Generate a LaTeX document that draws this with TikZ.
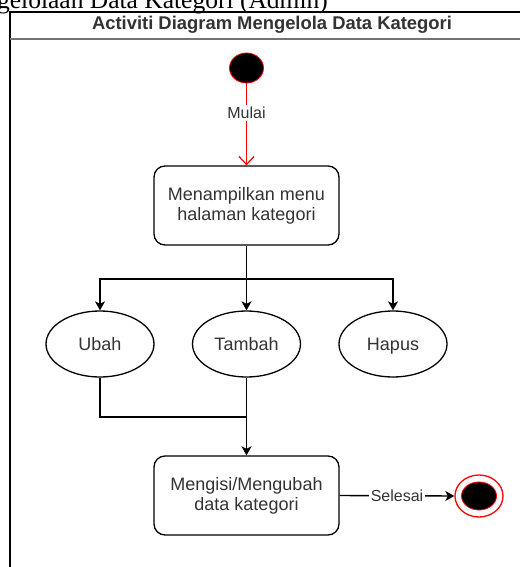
\documentclass[tikz,border=0pt]{standalone}
\usepackage{fontspec}
\setmainfont{Liberation Serif}
\newfontfamily\arialfont{Liberation Sans}
\usetikzlibrary{shapes.geometric,arrows.meta}
\definecolor{txt}{HTML}{333333}
\begin{document}
\begin{tikzpicture}[x=1pt,y=-1pt,
  every node/.style={font=\arialfont\fontsize{18}{20}\selectfont, text=txt, align=center, inner sep=0pt},
  conn/.style={draw=black, line width=1.4pt},
  arr/.style={conn, -{Stealth[length=9pt,width=10pt,inset=2.5pt]}},
  action/.style={draw=black, line width=1.3pt, rounded corners=11pt, fill=white,
    minimum width=185pt, minimum height=79pt},
  usecase/.style={ellipse, draw=black, line width=1.3pt, fill=white,
    minimum width=108pt, minimum height=66pt, text height=13pt, text depth=0pt},
  edgelabel/.style={fill=white, font=\arialfont\fontsize{16}{18}\selectfont, inner sep=2pt,
    text height=11.5pt, text depth=0pt}]
  \useasboundingbox (0,0) rectangle (519,567);
  \fill[white] (0,0) rectangle (519,567);

  % heading text above the frame
  \node[anchor=base east, font=\rmfamily\fontsize{25.5}{28}\selectfont, text=black]
    (caption) at (328,9) {Pengelolaan Data Kategori (Admin)};

  % frame with title band
  \draw[line width=1.4pt, black] (10,580) -- (10,12) -- (540,12);
  \draw[line width=2pt, black!55] (10,39) -- (540,39);
  \node[font=\arialfont\bfseries\fontsize{18.4}{20}\selectfont] (title) at (272,25)
    {Activiti Diagram Mengelola Data Kategori};

  % start node
  \node[ellipse, fill=black, draw=red, line width=0.8pt,
    minimum width=34pt, minimum height=30pt] (start) at (246.5,68) {};

  % actions and choices
  \node[action] (menu) at (246.5,205.5) {Menampilkan menu\\halaman kategori};
  \node[usecase] (ubah) at (100,344) {Ubah};
  \node[usecase] (tambah) at (246.5,344) {Tambah};
  \node[usecase] (hapus) at (393,344) {Hapus};
  \node[action] (isi) at (246.5,495.5) {Mengisi/Mengubah\\data kategori};

  % final node
  \node[ellipse, draw=red, line width=1.3pt, fill=white,
    minimum width=48pt, minimum height=42pt] (end) at (479,496) {};
  \node[ellipse, fill=black, draw=red, line width=0.8pt,
    minimum width=35pt, minimum height=28pt] (endcore) at (end.center) {};

  % junction points
  \coordinate (split) at (246.5,279);
  \coordinate (merge) at (246.5,417);

  % connectors
  \draw[red, line width=1.2pt, -{Straight Barb[length=8pt,width=15pt]}]
    (start) -- node[edgelabel, pos=0.36] (mulai) {Mulai} (menu);
  \draw[arr] (menu.south) -- (tambah.north);
  \draw[arr] (split) -| (ubah.north);
  \draw[arr] (split) -| (hapus.north);
  \draw[conn] (ubah.south) |- (merge);
  \draw[arr] (tambah.south) -- (isi.north);
  \draw[arr] (isi.east) -- node[edgelabel] (selesai) {Selesai} (end.west);
\end{tikzpicture}
\end{document}
